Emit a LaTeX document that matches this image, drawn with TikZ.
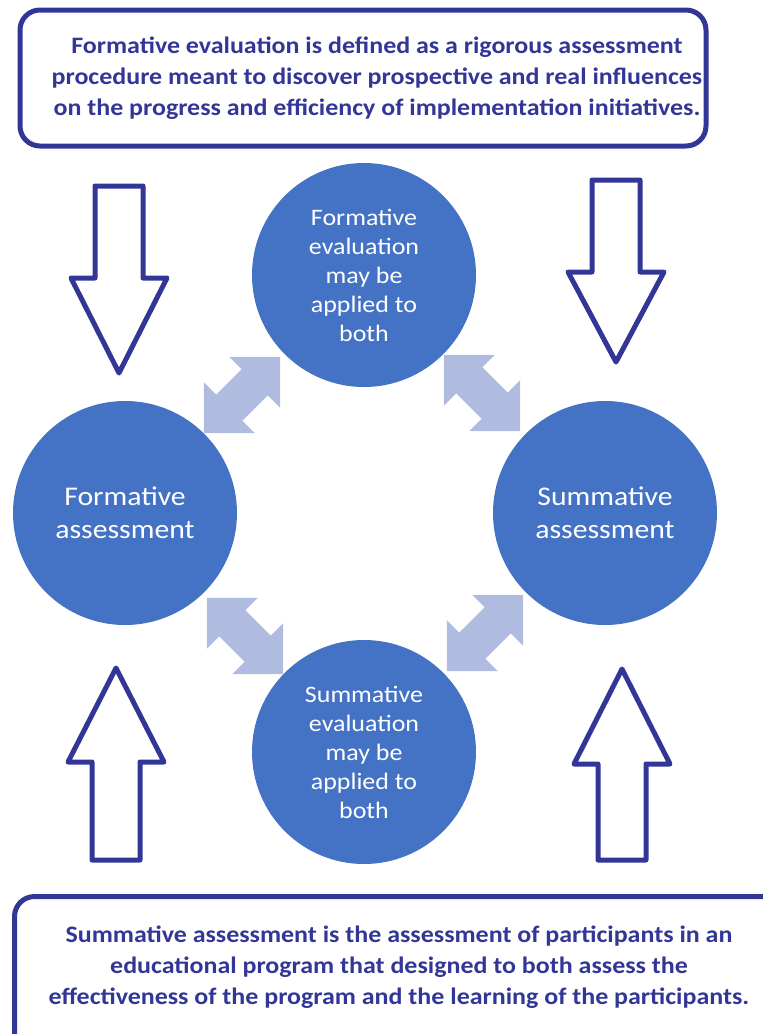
\documentclass[tikz,border=0pt]{standalone}
\usepackage{fontspec}
\setmainfont{Carlito}[FakeStretch=1.1]
\usepackage{xcolor}
\usepackage{tikz}
\usetikzlibrary{positioning}

\definecolor{bubbleblue}{RGB}{68,114,196}
\definecolor{linkblue}{RGB}{176,188,223}
\definecolor{inkblue}{RGB}{50,54,150}

\begin{document}
\begin{tikzpicture}[
  x=1pt, y=-1pt,
  bubble/.style={circle, fill=bubbleblue, text=white, minimum size=224pt, inner sep=0pt, align=center},
  infobox/.style={draw=inkblue, line width=5pt, rounded corners=20pt},
  infotext/.style={text=inkblue, font=\fontsize{23.6}{31}\selectfont\bfseries, align=center},
  blockarrow/.style={draw=inkblue, fill=white, line width=5pt, line join=round},
  link/.style={fill=linkblue}
]
\useasboundingbox (0,0) rectangle (763,1034);
\clip (0,0) rectangle (763,1034);

% the two definition boxes
\node[infobox, minimum width=686pt, minimum height=136pt] (topbox) at (363,78) {};
\node[infotext] (toptext) at (377,78) {Formative evaluation is defined as a rigorous assessment\\
  procedure meant to discover prospective and real influences\\
  on the progress and efficiency of implementation initiatives.};
\node[infobox, minimum width=775pt, minimum height=163pt] (botbox) at (402,978) {};
\node[infotext] (bottext) at (399,967) {Summative assessment is the assessment of participants in an\\
  educational program that designed to both assess the\\
  effectiveness of the program and the learning of the participants.};

% four circles
\node[bubble, font=\fontsize{23.6}{29}\selectfont] (feval) at (364,275) {Formative\\evaluation\\may be\\applied to\\both};
\node[bubble, font=\fontsize{23.6}{29}\selectfont] (seval) at (364,752) {Summative\\evaluation\\may be\\applied to\\both};
\node[bubble, font=\fontsize{27}{33}\selectfont] (fassess) at (125,513) {Formative\\assessment};
\node[bubble, font=\fontsize{27}{33}\selectfont] (sassess) at (605,513) {Summative\\assessment};

% double arrows between the circles
\foreach \cx/\cy/\ang in {242/395/45, 482/393/-45, 245/636/-45, 485/633/45} {
  \fill[link, shift={(\cx,\cy)}, rotate=\ang]
    (-54,0) -- (-18,36) -- (-18,18.5) -- (18,18.5) -- (18,36) -- (54,0)
    -- (18,-36) -- (18,-18.5) -- (-18,-18.5) -- (-18,-36) -- cycle;
}

% hollow block arrows: centre x / base / shoulder / tip
\foreach \cx/\base/\sh/\tip in {119/186/278/373, 616/180/272/362, 116/860/762/668, 622/860/764/669} {
  \draw[blockarrow] (\cx-24,\base) -- (\cx+24,\base) -- (\cx+24,\sh) -- (\cx+48,\sh)
    -- (\cx,\tip) -- (\cx-48,\sh) -- (\cx-24,\sh) -- cycle;
}
\end{tikzpicture}
\end{document}
